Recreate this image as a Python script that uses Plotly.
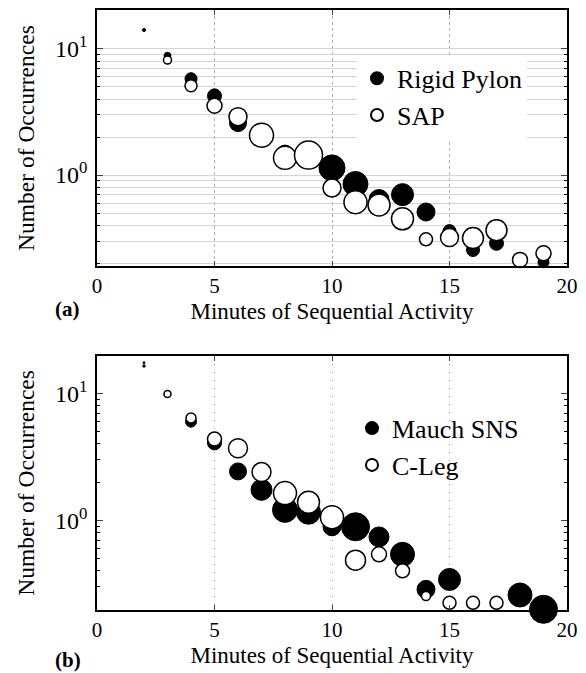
import plotly.graph_objects as go
from plotly.subplots import make_subplots
import math

# ---- Panel (a) data ----
rigid_x = [2, 3, 4, 5, 6, 7, 8, 9, 10, 11, 12, 13, 14, 15, 16, 17, 19]
rigid_y = [14.1, 8.8, 5.8, 4.24, 2.58, 2.05, 1.48, 1.4, 1.14, 0.85, 0.64, 0.70, 0.51, 0.36, 0.255, 0.288, 0.204]
rigid_s = [3, 7, 12, 14, 17, 20, 17, 22, 26, 25, 20, 22, 18, 13, 13, 14, 11]

sap_x = [2, 3, 4, 5, 6, 7, 8, 9, 10, 11, 12, 13, 14, 15, 16, 17, 18, 19]
sap_y = [14.1, 8.15, 5.1, 3.54, 2.9, 2.07, 1.37, 1.44, 0.79, 0.61, 0.58, 0.45, 0.31, 0.32, 0.317, 0.366, 0.213, 0.24]
sap_s = [2, 8, 12, 15, 18, 24, 23, 28, 18, 23, 22, 22, 13, 18, 21, 21, 15, 15]

# ---- Panel (b) data ----
mauch_x = [2, 3, 4, 5, 6, 7, 8, 9, 10, 11, 12, 13, 14, 15, 18, 19]
mauch_y = [17.5, 9.9, 6.0, 4.08, 2.43, 1.74, 1.21, 1.16, 0.89, 0.89, 0.74, 0.54, 0.286, 0.342, 0.258, 0.199]
mauch_s = [2, 5, 11, 14, 17, 21, 25, 24, 18, 28, 20, 24, 18, 22, 24, 28]

cleg_x = [2, 3, 4, 5, 6, 7, 8, 9, 10, 11, 12, 13, 14, 15, 16, 17]
cleg_y = [16.5, 9.9, 6.4, 4.37, 3.7, 2.4, 1.64, 1.39, 1.06, 0.485, 0.54, 0.40, 0.253, 0.224, 0.224, 0.224]
cleg_s = [2, 7, 10, 14, 19, 19, 23, 22, 23, 20, 15, 14, 9, 13, 13, 13]

x_ticks = [0, 5, 10, 15, 20]
y_major = [1, 10]
y_major_text = ["10<sup>0</sup>", "10<sup>1</sup>"]
y_minor = [0.2, 0.3, 0.4, 0.5, 0.6, 0.7, 0.8, 0.9, 2, 3, 4, 5, 6, 7, 8, 9, 20]

FONT = "Liberation Serif"
H = 673
top_px, bot_px = 8, 610
ph = bot_px - top_px

def yd(py):
    return (bot_px - py) / ph

fig = make_subplots(rows=2, cols=1)
fig.update_layout(
    width=586, height=H,
    margin=dict(l=97, r=19, t=top_px, b=H - bot_px),
    paper_bgcolor="white", plot_bgcolor="white",
    font=dict(family=FONT, color="black", size=20),
    showlegend=True,
)

def filled(x, y, s, name, legend):
    return go.Scatter(x=x, y=y, mode="markers", name=name, legend=legend,
                      cliponaxis=False,
                      marker=dict(size=s, color="black", opacity=1,
                                  line=dict(color="black", width=1)))

def hollow(x, y, s, name, legend):
    return go.Scatter(x=x, y=y, mode="markers", name=name, legend=legend,
                      cliponaxis=False,
                      marker=dict(size=s, color="white", opacity=1,
                                  line=dict(color="black", width=1.5)))

fig.add_trace(filled(rigid_x, rigid_y, rigid_s, "Rigid Pylon", "legend"), row=1, col=1)
fig.add_trace(hollow(sap_x, sap_y, sap_s, "SAP", "legend"), row=1, col=1)
fig.add_trace(filled(mauch_x, mauch_y, mauch_s, "Mauch SNS", "legend2"), row=2, col=1)
fig.add_trace(hollow(cleg_x, cleg_y, cleg_s, "C-Leg", "legend2"), row=2, col=1)

xcommon = dict(range=[0, 20], tickvals=x_ticks, ticks="inside", ticklen=5,
               showline=True, linecolor="black", linewidth=1.5, mirror="ticks",
               tickfont=dict(size=21, family=FONT), zeroline=False,
               title=dict(text="Minutes of Sequential Activity",
                          font=dict(size=23, family=FONT), standoff=6))

fig.update_xaxes(**xcommon, row=1, col=1)
fig.update_xaxes(**xcommon, row=2, col=1)
fig.update_xaxes(showgrid=True, gridcolor="#b0b0b0", griddash="dot", gridwidth=1, row=1, col=1)
fig.update_xaxes(showgrid=True, gridcolor="#909090", griddash="1px,7px", gridwidth=1, row=2, col=1)

ycommon = dict(type="log", tickvals=y_major, ticktext=y_major_text, ticks="inside", ticklen=6,
               showline=True, linecolor="black", linewidth=1.5, mirror="ticks",
               tickfont=dict(size=24, family=FONT), zeroline=False, ticklabelstandoff=3,
               title=dict(text="Number of Occurrences", font=dict(size=23.5, family=FONT), standoff=14))

fig.update_yaxes(**ycommon, range=[math.log10(0.19), math.log10(20.3)],
                 domain=[yd(265), 1.0], showgrid=True, gridcolor="#d4d4d4", gridwidth=1,
                 minor=dict(tickvals=y_minor, ticks="inside", ticklen=3, tickcolor="black",
                            showgrid=True, gridcolor="#d4d4d4", gridwidth=1),
                 row=1, col=1)
fig.update_yaxes(**ycommon, range=[math.log10(0.1965), math.log10(19.8)],
                 domain=[0.0, yd(355)], showgrid=False,
                 minor=dict(tickvals=y_minor, ticks="inside", ticklen=3, tickcolor="black",
                            showgrid=False),
                 row=2, col=1)

fig.update_xaxes(domain=[0, 1])

legend_font = dict(family=FONT, size=26, color="black")
fig.update_layout(
    legend=dict(x=(357 - 97) / 470, y=yd(53), xanchor="left", yanchor="top",
                bgcolor="white", borderwidth=0, font=legend_font,
                itemsizing="constant", tracegroupgap=0),
    legend2=dict(x=(352 - 97) / 470, y=yd(404), xanchor="left", yanchor="top",
                 bgcolor="rgba(255,255,255,0)", borderwidth=0, font=legend_font,
                 itemsizing="constant", tracegroupgap=0),
)

fig.add_annotation(text="<b>(a)</b>", x=(67 - 97) / 470, y=yd(308), xref="paper", yref="paper",
                   xanchor="center", yanchor="middle",
                   showarrow=False, font=dict(family=FONT, size=21))
fig.add_annotation(text="<b>(b)</b>", x=(68 - 97) / 470, y=yd(660), xref="paper", yref="paper",
                   xanchor="center", yanchor="middle",
                   showarrow=False, font=dict(family=FONT, size=21))

fig.write_html("out.html", config={"displayModeBar": False},
               post_script="document.body.style.margin='0';document.body.style.padding='0';")
